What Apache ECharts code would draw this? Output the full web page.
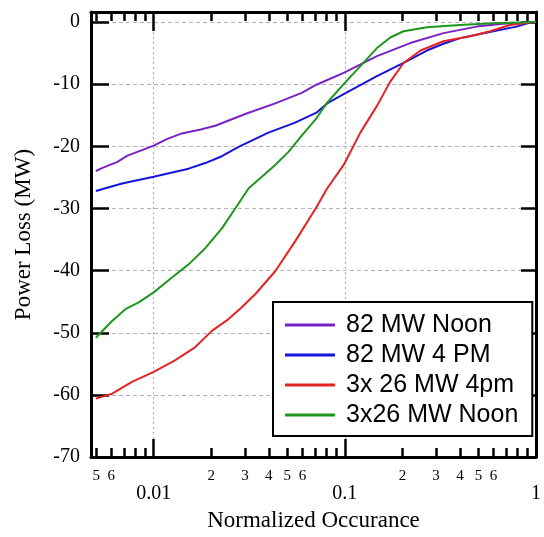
<!DOCTYPE html>
<html>
<head>
<meta charset="utf-8">
<script src="https://cdn.jsdelivr.net/npm/echarts@6/dist/echarts.min.js"></script>
<style>
html,body{margin:0;padding:0;background:#fff;}
#chart{width:544px;height:537px;}
</style>
</head>
<body>
<div id="chart"></div>
<script>
// ---- data ----
const seriesNames = ['82 MW Noon', '82 MW 4 PM', '3x 26 MW 4pm', '3x26 MW Noon'];

const noon82 = [
  [0.00498,-24.0],[0.00528,-23.6],[0.00646,-22.5],[0.00729,-21.5],[0.00855,-20.7],
  [0.0100,-19.9],[0.01179,-18.8],[0.01384,-18.0],[0.01760,-17.3],[0.02100,-16.7],
  [0.03012,-14.8],[0.04321,-13.1],[0.05949,-11.4],[0.0710,-10.1],[0.0986,-8.2],
  [0.1472,-5.5],[0.2198,-3.4],[0.3281,-1.8],[0.4899,-0.75],[0.6724,-0.3],
  [0.9303,-0.1],[1.0,0]
];
const pm82 = [
  [0.00498,-27.2],[0.00683,-26.0],[0.0100,-24.9],[0.01523,-23.6],[0.01862,-22.7],
  [0.02273,-21.6],[0.02780,-20.1],[0.03984,-17.8],[0.05494,-16.2],[0.0710,-14.6],
  [0.08075,-13.1],[0.0986,-11.6],[0.1472,-8.7],[0.2028,-6.6],[0.2686,-4.6],
  [0.3281,-3.5],[0.4009,-2.6],[0.5984,-1.5],[0.7925,-0.75],[0.9303,-0.1],[1.0,0]
];
const pm3x26 = [
  [0.00498,-60.6],[0.00606,-59.8],[0.0077,-57.9],[0.0100,-56.3],[0.01298,-54.4],
  [0.01651,-52.3],[0.02016,-49.7],[0.02462,-47.8],[0.02891,-45.9],[0.03395,-43.8],
  [0.04321,-40.1],[0.05494,-35.3],[0.0710,-29.8],[0.08075,-26.8],[0.0986,-23.0],
  [0.1205,-17.8],[0.1472,-13.5],[0.1729,-9.6],[0.2028,-6.6],[0.2486,-4.6],
  [0.3281,-3.1],[0.4521,-2.3],[0.5752,-1.5],[0.7316,-0.5],[0.9303,-0.1],[1.0,0]
];
const noon3x26 = [
  [0.00498,-50.8],[0.00606,-48.1],[0.00711,-46.2],[0.00835,-45.1],[0.0100,-43.5],
  [0.01246,-41.1],[0.01523,-39.0],[0.01862,-36.4],[0.02273,-33.2],[0.02671,-30.0],
  [0.03133,-26.8],[0.03679,-24.9],[0.04321,-23.0],[0.0507,-20.9],[0.05949,-18.3],
  [0.0710,-15.5],[0.08075,-13.0],[0.0986,-10.0],[0.1205,-7.1],[0.1472,-4.2],
  [0.1729,-2.5],[0.2028,-1.5],[0.2686,-0.85],[0.4009,-0.5],[0.5984,-0.2],[1.0,0]
];

const xMin = 0.0047, xMax = 1;
const majorXTicks = [0.01, 0.1, 1];
const majorXLabels = ['0.01', '0.1', '1'];
const minorXTicks = [0.005,0.006,0.007,0.008,0.009,0.02,0.03,0.04,0.05,0.06,0.07,0.08,0.09,0.2,0.3,0.4,0.5,0.6,0.7,0.8,0.9];
const minorXLabelTicks = [0.005,0.006,0.02,0.03,0.04,0.05,0.06,0.2,0.3,0.4,0.5,0.6];
const yTicks = [-70,-60,-50,-40,-30,-20,-10,0];
const yMin = -70, yMax = 1.6;

// ---- chart ----
const SERIF = 'Liberation Serif';
const SANS = 'Liberation Sans';
const colors = ['#7a22c8', '#1414dc', '#e42424', '#1f961f'];
const lg = v => Math.log10(v);
const lMin = lg(xMin), lMax = lg(xMax);

function tickAxis(pos, ticks, len, lineShow, labelOpt) {
  return {
    type: 'value', gridIndex: 0, position: pos, min: lMin, max: lMax,
    axisLine: {show: lineShow, onZero: false, lineStyle: {color: '#000', width: 3}},
    axisTick: {show: true, inside: true, length: len, customValues: ticks.map(lg),
               lineStyle: {color: '#000', width: 2.5}},
    axisLabel: labelOpt || {show: false},
    splitLine: {show: false}
  };
}

const chart = echarts.init(document.getElementById('chart'), null, {renderer: 'canvas'});
chart.setOption({
  animation: false,
  backgroundColor: '#fff',
  color: colors,
  grid: {left: 91, right: 7, top: 12, bottom: 76, containLabel: false},
  legend: {
    orient: 'vertical', left: 273, top: 302,
    data: seriesNames,
    icon: 'rect', itemWidth: 50, itemHeight: 3, itemGap: 0,
    padding: [8, 14, 6, 12],
    backgroundColor: '#fff', borderColor: '#000', borderWidth: 2,
    textStyle: {fontFamily: SANS, fontSize: 25, color: '#000', lineHeight: 30, padding: [0, 0, 0, 6]}
  },
  xAxis: [
    {
      type: 'log', gridIndex: 0, min: xMin, max: xMax, logBase: 10,
      axisLine: {show: false}, axisTick: {show: false}, axisLabel: {show: false},
      splitLine: {show: true, lineStyle: {color: '#a8a8c8', width: 1, type: [2, 3]}}
    },
    Object.assign(tickAxis('bottom', majorXTicks, 18, true, {
      show: true, customValues: majorXTicks.map(lg), margin: 27,
      fontFamily: SERIF, fontSize: 20, color: '#000',
      formatter: v => {
        let best = 0;
        majorXTicks.forEach((t, i) => { if (Math.abs(lg(t) - v) < Math.abs(lg(majorXTicks[best]) - v)) best = i; });
        return majorXLabels[best];
      }
    }), {
      name: 'Normalized Occurance', nameLocation: 'middle', nameGap: 51,
      nameTextStyle: {fontFamily: SERIF, fontSize: 23, color: '#000'}
    }),
    tickAxis('bottom', minorXTicks, 9, false, {
      show: true, customValues: minorXLabelTicks.map(lg), margin: 11,
      fontFamily: SERIF, fontSize: 15, color: '#000',
      formatter: v => {
        const e = Math.floor(v + 1e-9);
        return String(Math.round(Math.pow(10, v - e)));
      }
    }),
    tickAxis('top', majorXTicks, 19, true),
    tickAxis('top', minorXTicks, 9, false)
  ],
  yAxis: [
    {
      type: 'value', gridIndex: 0, position: 'left', min: yMin, max: yMax, interval: 10,
      name: 'Power Loss (MW)', nameLocation: 'middle', nameGap: 56,
      nameTextStyle: {fontFamily: SERIF, fontSize: 23, color: '#000'},
      axisLine: {show: true, onZero: false, lineStyle: {color: '#000', width: 3}},
      axisTick: {show: true, inside: true, length: 18, customValues: yTicks, lineStyle: {color: '#000', width: 2.5}},
      axisLabel: {show: true, customValues: yTicks, margin: 11, fontFamily: SERIF, fontSize: 20, color: '#000'},
      splitLine: {show: true, lineStyle: {color: '#b0b0cc', width: 1, type: [4, 3]}}
    },
    {
      type: 'value', gridIndex: 0, position: 'right', min: yMin, max: yMax, interval: 10,
      axisLine: {show: true, onZero: false, lineStyle: {color: '#000', width: 3}},
      axisTick: {show: true, inside: true, length: 15, customValues: yTicks, lineStyle: {color: '#000', width: 2.5}},
      axisLabel: {show: false},
      splitLine: {show: false}
    }
  ],
  series: [
    {name: seriesNames[0], data: noon82},
    {name: seriesNames[1], data: pm82},
    {name: seriesNames[2], data: pm3x26},
    {name: seriesNames[3], data: noon3x26}
  ].map(s => Object.assign({
    type: 'line', xAxisIndex: 0, yAxisIndex: 0, showSymbol: false, symbol: 'none',
    smooth: false,
    lineStyle: {width: 2}
  }, s))
});
</script>
</body>
</html>
